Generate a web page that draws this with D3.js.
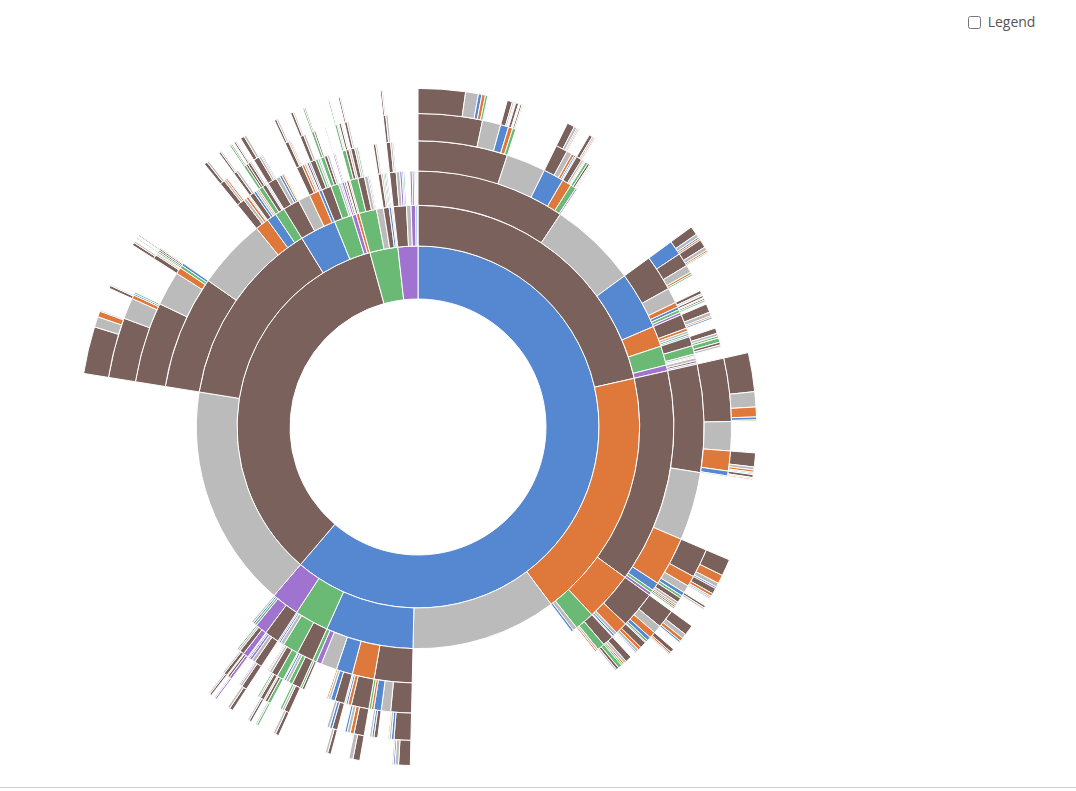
<!DOCTYPE html>
<html>
<head>
<meta charset="utf-8">
<script src="https://d3js.org/d3.v7.min.js"></script>
<style>
  html, body { margin: 0; padding: 0; background: #fff; font-family: 'Open Sans', sans-serif; }
  #chart { position: absolute; left: 0; top: 0; }
  #chart path { stroke: #fff; stroke-width: 1; }
  #sidebar { position: absolute; left: 964px; top: 12px; font-size: 14px; color: #555; }
  #sidebar input { margin: 3px 3px 3px 4px; vertical-align: -2px; }
  #pageline { position: absolute; left: 0; top: 787px; width: 1076px; height: 0; border-top: 1px solid #cfcfcf; }
</style>
</head>
<body>
<div id="sidebar"><input type="checkbox" id="togglelegend"> Legend</div>
<svg id="chart" width="1076" height="786"></svg>
<div id="pageline"></div>
<script>
// ---- Data: visit sequences and their counts ----
const homeProductSeqs = [
  ["home-product-product-product-product-product", 810],
  ["home-product-product-product-product-end", 220],
  ["home-product-product-product-product-home", 60],
  ["home-product-product-product-product-search", 60],
  ["home-product-product-product-product-account", 40],
  ["home-product-product-product-end", 340],
  ["home-product-product-product-home-product", 90],
  ["home-product-product-product-home-end", 30],
  ["home-product-product-product-home-search", 15],
  ["home-product-product-product-home-home", 15],
  ["home-product-product-product-search-product", 50],
  ["home-product-product-product-search-end", 20],
  ["home-product-product-product-search-search", 10],
  ["home-product-product-product-account-product", 30],
  ["home-product-product-product-account-account", 20],
  ["home-product-product-product-account-end", 10],
  ["home-product-product-end", 800],
  ["home-product-product-home-product-product", 130],
  ["home-product-product-home-product-end", 50],
  ["home-product-product-home-product-home", 20],
  ["home-product-product-home-product-search", 20],
  ["home-product-product-home-end", 100],
  ["home-product-product-home-search", 50],
  ["home-product-product-home-home", 30],
  ["home-product-product-home-account", 20],
  ["home-product-product-search-product-product", 60],
  ["home-product-product-search-product-end", 30],
  ["home-product-product-search-product-search", 20],
  ["home-product-product-search-end", 40],
  ["home-product-product-search-search", 20],
  ["home-product-product-search-home", 10],
  ["home-product-product-search-account", 10],
  ["home-product-product-account-account", 50],
  ["home-product-product-account-product", 40],
  ["home-product-product-account-end", 20],
  ["home-product-product-account-home", 10],
  ["home-product-product-other-end", 20],
  ["home-product-product-other-product", 10],
  ["home-product-end", 2000],
  ["home-product-home-product-home-product", 150],
  ["home-product-home-product-home-end", 60],
  ["home-product-home-product-home-home", 30],
  ["home-product-home-product-home-search", 30],
  ["home-product-home-product-product-product", 140],
  ["home-product-home-product-product-end", 60],
  ["home-product-home-product-product-search", 30],
  ["home-product-home-product-product-account", 20],
  ["home-product-home-product-end", 140],
  ["home-product-home-product-search", 40],
  ["home-product-home-product-account", 30],
  ["home-product-home-end", 310],
  ["home-product-home-search-product", 60],
  ["home-product-home-search-end", 30],
  ["home-product-home-search-search", 10],
  ["home-product-home-home-product", 40],
  ["home-product-home-home-end", 20],
  ["home-product-home-account-product", 30],
  ["home-product-home-account-account", 30],
  ["home-product-home-other", 50],
  ["home-product-search-product-product", 160],
  ["home-product-search-product-end", 70],
  ["home-product-search-product-search", 30],
  ["home-product-search-product-home", 30],
  ["home-product-search-search", 60],
  ["home-product-search-end", 50],
  ["home-product-search-account", 40],
  ["home-product-search-home", 30],
  ["home-product-account-product-product", 100],
  ["home-product-account-product-end", 50],
  ["home-product-account-product-account", 40],
  ["home-product-account-account-account", 80],
  ["home-product-account-account-product", 50],
  ["home-product-account-account-end", 40],
  ["home-product-account-end", 40],
  ["home-product-account-home", 20],
  ["home-product-account-search", 20],
  ["home-product-other-end", 60],
  ["home-product-other-product", 40],
  ["home-product-other-other", 30]
];

const homeSearchSeqs = [
  ["home-search-product-product-product-product", 670],
  ["home-search-product-product-product-end", 260],
  ["home-search-product-product-product-search", 170],
  ["home-search-product-product-product-home", 50],
  ["home-search-product-product-product-account", 20],
  ["home-search-product-product-end", 540],
  ["home-search-product-product-search-product", 240],
  ["home-search-product-product-search-end", 50],
  ["home-search-product-product-search-search", 40],
  ["home-search-product-product-search-home", 20],
  ["home-search-product-product-search-account", 20],
  ["home-search-product-product-home-product", 50],
  ["home-search-product-product-home-end", 20],
  ["home-search-product-product-home-search", 20],
  ["home-search-product-product-account", 20],
  ["home-search-product-end", 1390],
  ["home-search-product-search-product-product", 290],
  ["home-search-product-search-product-search", 150],
  ["home-search-product-search-product-end", 70],
  ["home-search-product-search-product-home", 30],
  ["home-search-product-search-search-product", 100],
  ["home-search-product-search-search-search", 50],
  ["home-search-product-search-search-end", 30],
  ["home-search-product-search-search-home", 20],
  ["home-search-product-search-end", 140],
  ["home-search-product-search-home-product", 40],
  ["home-search-product-search-home-end", 30],
  ["home-search-product-search-account", 50],
  ["home-search-product-home-product", 90],
  ["home-search-product-home-end", 50],
  ["home-search-product-home-search", 30],
  ["home-search-product-account-product", 30],
  ["home-search-product-account-account", 30],
  ["home-search-product-other", 60],
  ["home-search-search-product-product-product", 180],
  ["home-search-search-product-product-end", 80],
  ["home-search-search-product-product-search", 60],
  ["home-search-search-product-product-home", 30],
  ["home-search-search-product-end", 150],
  ["home-search-search-product-search-product", 70],
  ["home-search-search-product-search-search", 30],
  ["home-search-search-product-search-end", 20],
  ["home-search-search-product-home", 70],
  ["home-search-search-product-account", 40],
  ["home-search-search-product-other", 20],
  ["home-search-search-search-product", 120],
  ["home-search-search-search-search", 60],
  ["home-search-search-search-end", 50],
  ["home-search-search-search-home", 20],
  ["home-search-search-end", 60],
  ["home-search-search-home", 40],
  ["home-search-search-account", 20],
  ["home-search-account-product-product", 120],
  ["home-search-account-product-end", 50],
  ["home-search-account-product-search", 30],
  ["home-search-account-product-account", 30],
  ["home-search-account-account-account", 70],
  ["home-search-account-account-product", 50],
  ["home-search-account-account-end", 30],
  ["home-search-account-end", 40],
  ["home-search-account-search", 30],
  ["home-search-end", 90],
  ["home-search-home", 50]
];

const homeOtherSeqs = [
  ["home-end", 3820],
  ["home-home-product-product-product-product", 200],
  ["home-home-product-product-product-end", 60],
  ["home-home-product-product-product-home", 30],
  ["home-home-product-product-product-search", 20],
  ["home-home-product-product-home", 50],
  ["home-home-product-product-end", 40],
  ["home-home-product-product-search", 20],
  ["home-home-product-end", 190],
  ["home-home-product-home-product", 70],
  ["home-home-product-home-home", 40],
  ["home-home-product-home-end", 40],
  ["home-home-product-search", 50],
  ["home-home-product-account", 50],
  ["home-home-search-product-product-product", 120],
  ["home-home-search-product-product-end", 70],
  ["home-home-search-product-search", 70],
  ["home-home-search-product-end", 60],
  ["home-home-search-product-home", 40],
  ["home-home-search-search", 70],
  ["home-home-search-home", 40],
  ["home-home-search-end", 30],
  ["home-home-home-product-product-product", 60],
  ["home-home-home-product-product-end", 40],
  ["home-home-home-product-home", 50],
  ["home-home-home-product-end", 50],
  ["home-home-home-home", 90],
  ["home-home-home-end", 50],
  ["home-home-home-search", 30],
  ["home-home-end", 360],
  ["home-home-other", 120],
  ["home-home-account-product", 50],
  ["home-home-account-account", 40],
  ["home-account-product-product-product-product", 60],
  ["home-account-product-product-product-end", 40],
  ["home-account-product-product-end", 40],
  ["home-account-product-product-account", 40],
  ["home-account-product-account", 80],
  ["home-account-product-end", 60],
  ["home-account-product-home", 40],
  ["home-account-product-search", 20],
  ["home-account-account-account-account-account", 35],
  ["home-account-account-account-account-end", 25],
  ["home-account-account-account-product", 50],
  ["home-account-account-account-end", 30],
  ["home-account-account-product-product-product", 40],
  ["home-account-account-product-product-end", 30],
  ["home-account-account-product-end", 30],
  ["home-account-account-product-account", 30],
  ["home-account-account-end", 50],
  ["home-account-account-home", 20],
  ["home-account-account-search", 20],
  ["home-account-end", 80],
  ["home-account-home", 40],
  ["home-account-other", 30],
  ["home-other-product-product-product-product", 60],
  ["home-other-product-product-product-end", 40],
  ["home-other-product-product-end", 40],
  ["home-other-product-product-other", 20],
  ["home-other-product-end", 70],
  ["home-other-product-other", 50],
  ["home-other-product-home", 30],
  ["home-other-product-account", 20],
  ["home-other-other-other-other-other", 30],
  ["home-other-other-other-other-end", 20],
  ["home-other-other-other-product", 40],
  ["home-other-other-other-end", 20],
  ["home-other-other-product-product-product", 35],
  ["home-other-other-product-product-end", 25],
  ["home-other-other-product-end", 30],
  ["home-other-other-end", 40],
  ["home-other-other-account", 30],
  ["home-other-account", 50],
  ["home-other-home", 40],
  ["home-other-end", 40]
];

const productSeqs = [
  ["product-end", 5860],
  ["product-product-product-product-product-product", 810],
  ["product-product-product-product-product-end", 180],
  ["product-product-product-product-product-search", 100],
  ["product-product-product-product-product-home", 20],
  ["product-product-product-product-product-account", 10],
  ["product-product-product-product-end", 390],
  ["product-product-product-product-search-product", 50],
  ["product-product-product-product-search-end", 20],
  ["product-product-product-product-home", 30],
  ["product-product-product-product-account", 30],
  ["product-product-product-end", 700],
  ["product-product-product-search-product-product", 50],
  ["product-product-product-search-product-end", 30],
  ["product-product-product-search-end", 30],
  ["product-product-product-search-search", 20],
  ["product-product-product-home-product-product", 20],
  ["product-product-product-home-product-end", 10],
  ["product-product-product-home-end", 20],
  ["product-product-product-account-account-account", 20],
  ["product-product-product-account-account-end", 10],
  ["product-product-product-account-product", 30],
  ["product-product-end", 1600],
  ["product-product-search-product-product-product", 55],
  ["product-product-search-product-product-end", 35],
  ["product-product-search-product-end", 40],
  ["product-product-search-product-search", 30],
  ["product-product-search-end", 60],
  ["product-product-search-search", 50],
  ["product-product-search-home", 20],
  ["product-product-search-account", 20],
  ["product-product-home-product-product-product", 35],
  ["product-product-home-product-product-end", 25],
  ["product-product-home-product-end", 40],
  ["product-product-home-home", 50],
  ["product-product-home-end", 40],
  ["product-product-home-search", 30],
  ["product-product-account-account-account-account", 30],
  ["product-product-account-account-account-product", 20],
  ["product-product-account-account-product", 40],
  ["product-product-account-product-product-product", 30],
  ["product-product-account-product-product-end", 20],
  ["product-product-account-product-end", 30],
  ["product-product-account-end", 30],
  ["product-product-account-home", 20],
  ["product-home-product-product-product-product", 70],
  ["product-home-product-product-product-end", 40],
  ["product-home-product-product-end", 40],
  ["product-home-product-product-search", 20],
  ["product-home-product-product-home", 20],
  ["product-home-product-end", 80],
  ["product-home-product-home", 50],
  ["product-home-product-search", 40],
  ["product-home-product-account", 20],
  ["product-home-end", 270],
  ["product-home-search-product-product-product", 40],
  ["product-home-search-product-product-end", 30],
  ["product-home-search-product-end", 30],
  ["product-home-search-product-search", 20],
  ["product-home-search-search", 50],
  ["product-home-search-end", 40],
  ["product-home-search-home", 20],
  ["product-home-home-product", 40],
  ["product-home-home-home", 30],
  ["product-account-product-product-product-product", 45],
  ["product-account-product-product-product-end", 25],
  ["product-account-product-product-end", 40],
  ["product-account-product-account", 50],
  ["product-account-product-end", 40],
  ["product-account-product-home", 20],
  ["product-account-account-account-account-account", 30],
  ["product-account-account-account-account-product", 20],
  ["product-account-account-account-product", 30],
  ["product-account-account-product", 60],
  ["product-account-account-end", 40],
  ["product-account-end", 50],
  ["product-account-home", 30],
  ["product-other-other-other-other", 20],
  ["product-other-other-other-end", 10],
  ["product-other-other-product", 20],
  ["product-other-product", 40],
  ["product-other-end", 20],
  ["product-search-product", 50],
  ["product-search-search", 30]
];

const accountSeqs = [
  ["account-account-account-account-account-account", 25],
  ["account-account-account-account-account-end", 15],
  ["account-account-account-account-product", 20],
  ["account-account-account-account-end", 20],
  ["account-account-account-product-product", 40],
  ["account-account-account-product-end", 20],
  ["account-account-account-end", 40],
  ["account-account-product-product-product-product", 30],
  ["account-account-product-product-product-end", 20],
  ["account-account-product-product-end", 30],
  ["account-account-product-end", 40],
  ["account-account-product-account", 30],
  ["account-account-end", 80],
  ["account-account-home", 30],
  ["account-account-search", 20],
  ["account-end", 180],
  ["account-product-product-product", 50],
  ["account-product-product-end", 30],
  ["account-product-end", 40],
  ["account-product-account", 30],
  ["account-home-product", 30],
  ["account-home-end", 30],
  ["account-search", 30],
  ["account-other", 20]
];

const otherSeqs = [
  ["other-product-product-product-product-product", 30],
  ["other-product-product-product-product-end", 20],
  ["other-product-product-product-end", 40],
  ["other-product-product-end", 40],
  ["other-product-product-other", 20],
  ["other-product-end", 80],
  ["other-product-other", 50],
  ["other-product-home", 30],
  ["other-product-account", 30],
  ["other-end", 120],
  ["other-other-other", 50],
  ["other-other-product", 40],
  ["other-other-end", 30],
  ["other-home-product", 20],
  ["other-home-end", 20],
  ["other-account", 20]
];

const colorNames = ["home", "product", "search", "account", "other", "end"];
const colorValues = ["#5687d1", "#7b615c", "#de783b", "#6ab975", "#a173d1", "#bbbbbb"];

// ---- Build the hierarchy (as in the sequences sunburst) ----
function buildHierarchy(rows) {
  const root = { name: "root", children: [] };
  rows.forEach(([seq, size]) => {
    const parts = seq.split("-");
    let node = root;
    parts.forEach((name, j) => {
      if (j + 1 < parts.length) {
        let child = node.children.find(c => c.name === name && c.children);
        if (!child) { child = { name, children: [] }; node.children.push(child); }
        node = child;
      } else {
        node.children.push({ name, size });
      }
    });
  });
  return root;
}

const rows = [].concat(homeProductSeqs, homeSearchSeqs, homeOtherSeqs, productSeqs, accountSeqs, otherSeqs);
const color = d3.scaleOrdinal().domain(colorNames).range(colorValues);

const cx = 418, cy = 427;
const radius = 338.6;

const root = d3.hierarchy(buildHierarchy(rows))
  .sum(d => d.size)
  .sort((a, b) => b.value - a.value);

d3.partition().size([2 * Math.PI, radius * radius])(root);

const arc = d3.arc()
  .startAngle(d => d.x0)
  .endAngle(d => d.x1)
  .innerRadius(d => Math.sqrt(d.y0))
  .outerRadius(d => Math.sqrt(d.y1));

const svg = d3.select("#chart");
const g = svg.append("g").attr("transform", `translate(${cx},${cy})`);

g.append("circle").attr("r", radius).style("opacity", 0);

g.selectAll("path")
  .data(root.descendants().filter(d => d.depth > 0))
  .join("path")
  .attr("d", arc)
  .attr("fill-rule", "evenodd")
  .style("fill", d => color(d.data.name))
  .style("opacity", 1);
</script>
</body>
</html>
